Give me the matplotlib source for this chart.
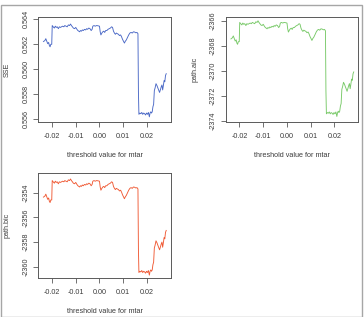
import matplotlib
matplotlib.use('Agg')
import matplotlib.pyplot as plt
from matplotlib.patches import Rectangle

plt.rcParams['font.family'] = ['Liberation Sans', 'DejaVu Sans']

threshold = [-0.0236, -0.0230, -0.0226, -0.0222, -0.0218, -0.0214, -0.0211, -0.0208, -0.0205, -0.0201,
             -0.0199, -0.0195, -0.0190, -0.0186, -0.0182, -0.0178, -0.0173, -0.0169, -0.0164, -0.0160,
             -0.0155, -0.0150, -0.0146, -0.0141, -0.0136, -0.0131, -0.0126, -0.0122, -0.0118, -0.0114,
             -0.0110, -0.0105, -0.0100, -0.0095, -0.0091, -0.0087, -0.0084, -0.0080, -0.0076, -0.0072,
             -0.0068, -0.0063, -0.0058, -0.0054, -0.0050, -0.0045, -0.0040, -0.0035, -0.0031, -0.0028,
             -0.0023, -0.0018, -0.0012, -0.0006, 0.0000, 0.0003, 0.0006, 0.0010, 0.0014, 0.0018,
             0.0022, 0.0026, 0.0031, 0.0036, 0.0041, 0.0046, 0.0051, 0.0055, 0.0059, 0.0063,
             0.0067, 0.0071, 0.0075, 0.0080, 0.0084, 0.0089, 0.0093, 0.0097, 0.0101, 0.0105,
             0.0109, 0.0113, 0.0118, 0.0123, 0.0128, 0.0133, 0.0138, 0.0143, 0.0148, 0.0153,
             0.0158, 0.0162, 0.0164, 0.0166, 0.0170, 0.0174, 0.0178, 0.0182, 0.0186, 0.0190,
             0.0194, 0.0198, 0.0202, 0.0206, 0.0210, 0.0213, 0.0216, 0.0219, 0.0222, 0.0225,
             0.0228, 0.0231, 0.0234, 0.0238, 0.0242, 0.0246, 0.0250, 0.0253, 0.0257, 0.0260,
             0.0263, 0.0266, 0.0269, 0.0272, 0.0275, 0.0278, 0.0281]

sse = [0.56222, 0.56230, 0.56245, 0.56225, 0.56205, 0.56215, 0.56190, 0.56180, 0.56200, 0.56200,
       0.56350, 0.56340, 0.56330, 0.56345, 0.56335, 0.56340, 0.56325, 0.56340, 0.56335, 0.56340,
       0.56345, 0.56340, 0.56350, 0.56345, 0.56340, 0.56355, 0.56350, 0.56362, 0.56350, 0.56340,
       0.56330, 0.56325, 0.56335, 0.56320, 0.56310, 0.56305, 0.56300, 0.56310, 0.56305, 0.56315,
       0.56310, 0.56320, 0.56315, 0.56325, 0.56320, 0.56330, 0.56325, 0.56310, 0.56320, 0.56345,
       0.56350, 0.56345, 0.56350, 0.56348, 0.56345, 0.56300, 0.56275, 0.56290, 0.56300, 0.56305,
       0.56295, 0.56310, 0.56310, 0.56320, 0.56325, 0.56330, 0.56340, 0.56335, 0.56305, 0.56290,
       0.56280, 0.56290, 0.56285, 0.56280, 0.56270, 0.56275, 0.56260, 0.56240, 0.56225, 0.56210,
       0.56225, 0.56235, 0.56255, 0.56275, 0.56290, 0.56295, 0.56290, 0.56300, 0.56298, 0.56292,
       0.56295, 0.56285, 0.55820, 0.55640, 0.55650, 0.55645, 0.55655, 0.55640, 0.55650, 0.55645,
       0.55635, 0.55650, 0.55640, 0.55655, 0.55620, 0.55650, 0.55660, 0.55650, 0.55660, 0.55700,
       0.55720, 0.55830, 0.55850, 0.55885, 0.55870, 0.55850, 0.55830, 0.55815, 0.55840, 0.55860,
       0.55875, 0.55835, 0.55870, 0.55910, 0.55900, 0.55950, 0.55965]

path_aic = [-2367.46, -2367.37, -2367.22, -2367.42, -2367.63, -2367.53, -2367.79, -2367.89, -2367.68, -2367.68,
            -2366.14, -2366.24, -2366.34, -2366.19, -2366.29, -2366.24, -2366.39, -2366.24, -2366.29, -2366.24,
            -2366.19, -2366.24, -2366.14, -2366.19, -2366.24, -2366.09, -2366.14, -2366.01, -2366.14, -2366.24,
            -2366.34, -2366.39, -2366.29, -2366.45, -2366.55, -2366.60, -2366.65, -2366.55, -2366.60, -2366.50,
            -2366.55, -2366.45, -2366.50, -2366.39, -2366.45, -2366.34, -2366.39, -2366.55, -2366.45, -2366.19,
            -2366.14, -2366.19, -2366.14, -2366.16, -2366.19, -2366.65, -2366.91, -2366.76, -2366.65, -2366.60,
            -2366.70, -2366.55, -2366.55, -2366.45, -2366.39, -2366.34, -2366.24, -2366.29, -2366.60, -2366.76,
            -2366.86, -2366.76, -2366.81, -2366.86, -2366.96, -2366.91, -2367.06, -2367.27, -2367.42, -2367.58,
            -2367.42, -2367.32, -2367.12, -2366.91, -2366.76, -2366.70, -2366.76, -2366.65, -2366.67, -2366.73,
            -2366.70, -2366.81, -2371.60, -2373.45, -2373.35, -2373.40, -2373.30, -2373.45, -2373.35, -2373.40,
            -2373.50, -2373.35, -2373.45, -2373.30, -2373.66, -2373.35, -2373.24, -2373.35, -2373.24, -2372.83,
            -2372.63, -2371.49, -2371.29, -2370.93, -2371.08, -2371.29, -2371.49, -2371.65, -2371.39, -2371.18,
            -2371.03, -2371.44, -2371.08, -2370.67, -2370.77, -2370.26, -2370.10]

path_bic = [-2354.36, -2354.28, -2354.12, -2354.33, -2354.54, -2354.43, -2354.70, -2354.80, -2354.59, -2354.59,
            -2353.02, -2353.12, -2353.23, -2353.07, -2353.17, -2353.12, -2353.28, -2353.12, -2353.17, -2353.12,
            -2353.07, -2353.12, -2353.02, -2353.07, -2353.12, -2352.96, -2353.02, -2352.89, -2353.02, -2353.12,
            -2353.23, -2353.28, -2353.17, -2353.33, -2353.44, -2353.49, -2353.54, -2353.44, -2353.49, -2353.38,
            -2353.44, -2353.33, -2353.38, -2353.28, -2353.33, -2353.23, -2353.28, -2353.44, -2353.33, -2353.07,
            -2353.02, -2353.07, -2353.02, -2353.04, -2353.07, -2353.54, -2353.80, -2353.65, -2353.54, -2353.49,
            -2353.59, -2353.44, -2353.44, -2353.33, -2353.28, -2353.23, -2353.12, -2353.17, -2353.49, -2353.65,
            -2353.75, -2353.65, -2353.70, -2353.75, -2353.86, -2353.80, -2353.96, -2354.17, -2354.33, -2354.49,
            -2354.33, -2354.22, -2354.01, -2353.80, -2353.65, -2353.59, -2353.65, -2353.54, -2353.56, -2353.62,
            -2353.59, -2353.70, -2358.58, -2360.47, -2360.37, -2360.42, -2360.31, -2360.47, -2360.37, -2360.42,
            -2360.52, -2360.37, -2360.47, -2360.31, -2360.68, -2360.37, -2360.26, -2360.37, -2360.26, -2359.84,
            -2359.63, -2358.48, -2358.27, -2357.90, -2358.06, -2358.27, -2358.48, -2358.63, -2358.37, -2358.16,
            -2358.00, -2358.42, -2358.06, -2357.64, -2357.74, -2357.22, -2357.06]

x_ticks = [-0.02, -0.01, 0.00, 0.01, 0.02]
x_tick_labels = ['-0.02', '-0.01', '0.00', '0.01', '0.02']
sse_ticks = [0.556, 0.558, 0.560, 0.562, 0.564]
sse_tick_labels = ['0.556', '0.558', '0.560', '0.562', '0.564']
aic_ticks = [-2374, -2372, -2370, -2368, -2366]
aic_tick_labels = ['-2374', '-2372', '-2370', '-2368', '-2366']
bic_ticks = [-2360, -2358, -2356, -2354]
bic_tick_labels = ['-2360', '-2358', '-2356', '-2354']
x_label = 'threshold value for mtar'

W, H = 364, 317
fig = plt.figure(figsize=(W / 100, H / 100), dpi=100)
fig.patch.set_facecolor('white')

FS = 5.2
BOX = '#5a5a5a'
TXT = '#3c3c3c'


def px_axes(l, t, r, b):
    return fig.add_axes([l / W, 1 - b / H, (r - l) / W, (b - t) / H])


def style(ax, y, color, yticks, ylabels, ylabel, ylim):
    ax.plot(threshold, y, color=color, lw=0.65)
    ax.set_xlim(-0.02576, 0.03003)
    ax.set_ylim(*ylim)
    ax.set_xticks(x_ticks)
    ax.set_xticklabels(x_tick_labels)
    ax.set_yticks(yticks)
    ax.set_yticklabels(ylabels, rotation=90, va='center')
    for s in ax.spines.values():
        s.set_color(BOX)
        s.set_linewidth(0.7)
    ax.tick_params(axis='both', length=3.4, width=0.6, color=BOX, labelsize=FS,
                   labelcolor=TXT)
    ax.tick_params(axis='x', pad=4.8)
    ax.tick_params(axis='y', pad=3.0)
    ax.set_xlabel(x_label, fontsize=FS, color=TXT)
    ax.xaxis.set_label_coords(0.5, -33.5 / 104.4)
    ax.xaxis.label.set_va('center')
    ax.set_ylabel(ylabel, fontsize=FS, color=TXT)
    ax.yaxis.set_label_coords(-31 / 132.5, 0.5)
    ax.yaxis.label.set_va('center')


ax1 = px_axes(38.3, 17.3, 170.8, 121.7)
style(ax1, sse, '#4a68c6', sse_ticks, sse_tick_labels, 'SSE', (0.55581, 0.56416))

ax2 = px_axes(225.8, 17.3, 358.3, 121.7)
style(ax2, path_aic, '#78c968', aic_ticks, aic_tick_labels, 'path.aic', (-2374.08, -2365.73))

ax3 = px_axes(38.3, 173.3, 170.8, 277.7)
style(ax3, path_bic, '#f05a35', bic_ticks, bic_tick_labels, 'path.bic', (-2360.89, -2352.43))

fig.patches.append(Rectangle((1 / W, 0.0), 361 / W, (H - 5) / H, transform=fig.transFigure,
                             fill=False, edgecolor='#a6a6a6', lw=1.0))

fig.savefig('out.png', dpi=100)
